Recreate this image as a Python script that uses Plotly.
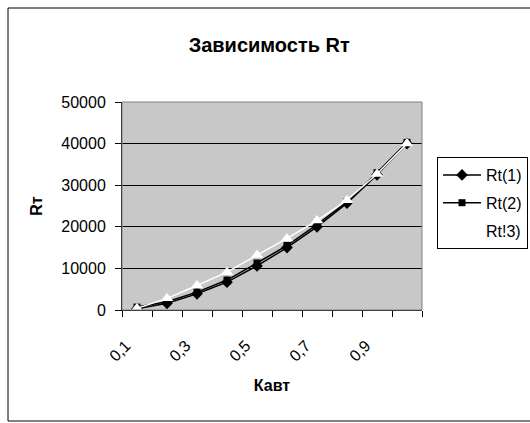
import plotly.graph_objects as go

categories = ["0,1", "0,2", "0,3", "0,4", "0,5", "0,6", "0,7", "0,8", "0,9", "1,0"]
rt1 = [300, 1600, 3900, 6700, 10600, 15000, 20000, 25700, 32500, 40000]
rt2 = [700, 2000, 4300, 7200, 11300, 15500, 20500, 26000, 33000, 40300]
rt3 = [400, 2800, 5900, 9100, 13200, 17200, 21500, 26400, 32700, 40000]
y_ticks = [0, 10000, 20000, 30000, 40000, 50000]

xpos = list(range(1, len(categories) + 1))
font = "Liberation Sans, Arial, sans-serif"

fig = go.Figure()
fig.add_trace(go.Scatter(x=xpos, y=rt1, name="Rt(1)", mode="lines+markers", legendgroup="a",
                         line=dict(color="black", width=1.5),
                         marker=dict(symbol="diamond", size=9, color="black")))
fig.add_trace(go.Scatter(x=xpos, y=rt2, name="Rt(2)", mode="lines+markers", legendgroup="b",
                         line=dict(color="black", width=1.5),
                         marker=dict(symbol="square", size=7, color="black")))
fig.add_trace(go.Scatter(x=xpos, y=rt3, name="Rt!3)", mode="lines+markers", legendgroup="c",
                         line=dict(color="white", width=1.5),
                         marker=dict(symbol="triangle-up", size=11, color="white")))

L, R, T, B = 122, 422, 102, 310
W, H = 530, 423

def px(x):
    return (x - L) / (R - L)

def py(y):
    return (B - y) / (B - T)

fig.update_layout(
    width=W, height=H,
    margin=dict(l=L, r=W - R, t=T, b=H - B, autoexpand=False),
    paper_bgcolor="white",
    plot_bgcolor="#C8C8C8",
    font=dict(family=font, size=16, color="black"),
    title=dict(text="<b>Зависимость Rт</b>", x=0.508, xanchor="center",
               y=1 - 45 / H, yanchor="middle", font=dict(size=20)),
    showlegend=True,
    legend=dict(x=px(437), y=py(157), xanchor="left", yanchor="top",
                bgcolor="white", bordercolor="black", borderwidth=1,
                font=dict(size=16), tracegroupgap=4, itemwidth=38),
    xaxis=dict(range=[0.5, len(categories) + 0.5],
               tickvals=xpos[::2], ticktext=categories[::2],
               tickangle=-45, ticks="", showgrid=False, zeroline=False,
               showline=True, linecolor="black", linewidth=1,
               tickfont=dict(size=16), ticklabelstandoff=19, ticklabelshift=-11,
               minor=dict(tickvals=[p - 0.5 for p in xpos] + [len(categories) + 0.5],
                          ticks="outside", ticklen=6, tickcolor="black", showgrid=False),
               title=dict(text="<b>Кавт</b>", font=dict(size=16), standoff=16)),
    yaxis=dict(range=[0, 50000], tickvals=y_ticks, ticktext=[str(v) for v in y_ticks],
               ticks="outside", ticklen=6, tickcolor="black",
               showgrid=True, gridcolor="black", gridwidth=1, zeroline=False,
               showline=True, linecolor="black", linewidth=1,
               tickfont=dict(size=16), ticklabelstandoff=6,
               title=dict(text="<b>Rт</b>", font=dict(size=16), standoff=14)),
    shapes=[
        dict(type="rect", xref="paper", yref="paper", x0=0, x1=1, y0=0, y1=1,
             line=dict(color="#808080", width=1), layer="above"),
        dict(type="rect", xref="paper", yref="paper", x0=px(8), x1=px(540),
             y0=py(421), y1=py(8), line=dict(color="black", width=1)),
    ],
)

fig.write_html("out.html", config={"displayModeBar": False},
               post_script="document.body.style.margin='0';")
